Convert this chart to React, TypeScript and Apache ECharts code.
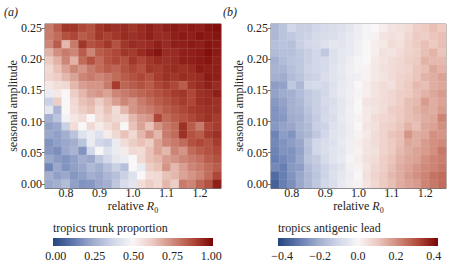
import React, { useEffect, useRef } from 'react';
import * as echarts from 'echarts';

const FONT = 'Liberation Serif';
const TEXT = '#222';
const AXIS = '#555';

// grid cell centres
const rValues = [0.75, 0.775, 0.8, 0.825, 0.85, 0.875, 0.9, 0.925, 0.95, 0.975, 1.0, 1.025, 1.05, 1.075, 1.1, 1.125, 1.15, 1.175, 1.2, 1.225, 1.25];
const ampValues = [0.0, 0.0132, 0.0263, 0.0395, 0.0526, 0.0658, 0.0789, 0.0921, 0.1053, 0.1184, 0.1316, 0.1447, 0.1579, 0.1711, 0.1842, 0.1974, 0.2105, 0.2237, 0.2368, 0.25];

const xTicks = [0.8, 0.9, 1.0, 1.1, 1.2];
const yTicks = [0, 0.05, 0.1, 0.15, 0.2, 0.25];
const trunkTicks = [0, 0.25, 0.5, 0.75, 1.0];
const leadTicks = [-0.4, -0.2, 0, 0.2, 0.4];

// rows listed from top (amplitude 0.25) to bottom (amplitude 0.00)
const trunkProportion = [
  [0.78, 0.84, 0.91, 0.91, 0.88, 0.86, 0.91, 0.93, 0.92, 0.93, 0.91, 0.93, 0.95, 0.93, 0.95, 0.96, 0.95, 0.96, 0.95, 0.97, 0.98],
  [0.78, 0.81, 0.86, 0.88, 0.84, 0.86, 0.91, 0.89, 0.91, 0.93, 0.92, 0.93, 0.95, 0.93, 0.93, 0.95, 0.96, 0.95, 0.97, 0.96, 0.97],
  [0.76, 0.84, 0.66, 0.78, 0.91, 0.86, 0.88, 0.91, 0.86, 0.91, 0.93, 0.92, 0.93, 0.95, 0.93, 0.95, 0.95, 0.96, 0.95, 0.97, 0.96],
  [0.67, 0.74, 0.78, 0.76, 0.84, 0.76, 0.84, 0.86, 0.88, 0.91, 0.90, 0.93, 0.95, 0.97, 0.93, 0.93, 0.95, 0.95, 0.96, 0.98, 0.96],
  [0.62, 0.67, 0.76, 0.67, 0.81, 0.86, 0.81, 0.86, 0.88, 0.86, 0.91, 0.88, 0.91, 0.93, 0.92, 0.93, 0.95, 0.95, 0.96, 0.97, 0.95],
  [0.58, 0.64, 0.70, 0.76, 0.73, 0.78, 0.81, 0.84, 0.82, 0.86, 0.88, 0.86, 0.91, 0.90, 0.92, 0.93, 0.92, 0.93, 0.96, 0.95, 0.95],
  [0.59, 0.61, 0.66, 0.70, 0.76, 0.78, 0.76, 0.78, 0.81, 0.84, 0.86, 0.88, 0.86, 0.90, 0.92, 0.91, 0.93, 0.92, 0.93, 0.96, 0.95],
  [0.54, 0.57, 0.58, 0.66, 0.71, 0.73, 0.73, 0.78, 0.90, 0.82, 0.84, 0.86, 0.84, 0.88, 0.90, 0.88, 0.84, 0.91, 0.93, 0.95, 0.93],
  [0.46, 0.54, 0.50, 0.61, 0.66, 0.71, 0.73, 0.70, 0.76, 0.78, 0.80, 0.82, 0.84, 0.86, 0.88, 0.90, 0.91, 0.88, 0.92, 0.93, 0.95],
  [0.36, 0.61, 0.50, 0.58, 0.64, 0.66, 0.61, 0.66, 0.71, 0.76, 0.73, 0.78, 0.81, 0.84, 0.86, 0.88, 0.90, 0.88, 0.92, 0.93, 0.92],
  [0.44, 0.28, 0.50, 0.57, 0.61, 0.64, 0.58, 0.64, 0.57, 0.66, 0.73, 0.76, 0.78, 0.81, 0.84, 0.86, 0.88, 0.90, 0.91, 0.92, 0.92],
  [0.26, 0.32, 0.48, 0.54, 0.57, 0.50, 0.57, 0.61, 0.58, 0.57, 0.66, 0.71, 0.73, 0.88, 0.81, 0.84, 0.86, 0.88, 0.90, 0.92, 0.90],
  [0.22, 0.24, 0.36, 0.57, 0.50, 0.58, 0.53, 0.57, 0.61, 0.50, 0.64, 0.70, 0.64, 0.73, 0.78, 0.81, 0.92, 0.84, 0.78, 0.88, 0.90],
  [0.24, 0.22, 0.26, 0.32, 0.42, 0.46, 0.42, 0.53, 0.58, 0.64, 0.58, 0.66, 0.73, 0.66, 0.78, 0.81, 0.92, 0.86, 0.84, 0.90, 0.92],
  [0.19, 0.22, 0.24, 0.26, 0.32, 0.46, 0.38, 0.36, 0.46, 0.57, 0.61, 0.64, 0.61, 0.70, 0.76, 0.78, 0.81, 0.86, 0.88, 0.86, 0.90],
  [0.20, 0.18, 0.24, 0.27, 0.19, 0.38, 0.50, 0.42, 0.46, 0.53, 0.58, 0.57, 0.64, 0.70, 0.66, 0.76, 0.73, 0.81, 0.84, 0.86, 0.88],
  [0.24, 0.21, 0.19, 0.22, 0.26, 0.24, 0.33, 0.38, 0.44, 0.46, 0.50, 0.58, 0.64, 0.66, 0.71, 0.73, 0.76, 0.78, 0.80, 0.84, 0.86],
  [0.16, 0.24, 0.19, 0.22, 0.24, 0.29, 0.26, 0.31, 0.36, 0.31, 0.50, 0.46, 0.61, 0.64, 0.73, 0.66, 0.71, 0.76, 0.78, 0.81, 0.84],
  [0.26, 0.22, 0.24, 0.20, 0.22, 0.26, 0.24, 0.28, 0.31, 0.36, 0.42, 0.50, 0.57, 0.58, 0.64, 0.66, 0.70, 0.73, 0.76, 0.81, 0.88],
  [0.24, 0.26, 0.30, 0.22, 0.19, 0.20, 0.24, 0.26, 0.33, 0.40, 0.43, 0.57, 0.61, 0.58, 0.66, 0.61, 0.78, 0.76, 0.82, 0.86, 0.95],
];

const antigenicLead = [
  [-0.18, -0.15, -0.10, -0.12, -0.12, -0.10, -0.09, -0.08, -0.07, -0.05, -0.03, -0.01, 0.00, 0.02, 0.04, 0.05, 0.06, 0.09, 0.10, 0.12, 0.10],
  [-0.18, -0.15, -0.14, -0.12, -0.11, -0.09, -0.08, -0.08, -0.06, -0.04, -0.03, -0.01, 0.01, 0.04, 0.05, 0.04, 0.07, 0.10, 0.09, 0.11, 0.12],
  [-0.16, -0.15, -0.16, -0.12, -0.10, -0.09, -0.07, -0.05, -0.06, -0.04, -0.02, 0.00, 0.02, 0.03, 0.06, 0.05, 0.08, 0.10, 0.12, 0.10, 0.12],
  [-0.17, -0.16, -0.16, -0.14, -0.12, -0.10, -0.14, -0.07, -0.05, -0.04, -0.02, 0.00, 0.02, 0.05, 0.04, 0.06, 0.08, 0.09, 0.12, 0.14, 0.11],
  [-0.20, -0.17, -0.15, -0.14, -0.12, -0.10, -0.09, -0.07, -0.05, -0.03, -0.01, 0.00, 0.03, 0.04, 0.06, 0.07, 0.09, 0.10, 0.14, 0.13, 0.13],
  [-0.19, -0.19, -0.16, -0.14, -0.11, -0.10, -0.09, -0.06, -0.04, -0.02, -0.01, 0.01, 0.03, 0.05, 0.06, 0.07, 0.08, 0.11, 0.12, 0.16, 0.14],
  [-0.20, -0.21, -0.17, -0.15, -0.12, -0.11, -0.08, -0.06, -0.05, -0.03, -0.02, 0.01, 0.03, 0.04, 0.06, 0.08, 0.09, 0.11, 0.14, 0.15, 0.17],
  [-0.24, -0.23, -0.14, -0.18, -0.10, -0.09, -0.10, -0.07, -0.04, -0.03, 0.00, 0.02, 0.04, 0.06, 0.05, 0.08, 0.10, 0.13, 0.12, 0.15, 0.16],
  [-0.23, -0.21, -0.20, -0.17, -0.14, -0.12, -0.10, -0.06, -0.04, -0.02, -0.01, 0.02, 0.04, 0.06, 0.07, 0.09, 0.10, 0.12, 0.14, 0.16, 0.18],
  [-0.25, -0.23, -0.20, -0.18, -0.14, -0.12, -0.09, -0.08, -0.05, -0.03, 0.00, 0.04, 0.05, 0.06, 0.07, 0.09, 0.12, 0.13, 0.18, 0.15, 0.17],
  [-0.26, -0.24, -0.20, -0.19, -0.15, -0.12, -0.10, -0.07, -0.05, -0.02, 0.00, 0.03, 0.04, 0.06, 0.09, 0.10, 0.12, 0.14, 0.16, 0.15, 0.18],
  [-0.26, -0.25, -0.21, -0.20, -0.16, -0.13, -0.09, -0.08, -0.04, -0.02, 0.01, 0.03, 0.06, 0.07, 0.08, 0.10, 0.12, 0.13, 0.15, 0.16, 0.22],
  [-0.25, -0.23, -0.22, -0.19, -0.17, -0.12, -0.11, -0.07, -0.05, -0.03, 0.00, 0.04, 0.05, 0.08, 0.09, 0.11, 0.14, 0.12, 0.16, 0.17, 0.20],
  [-0.29, -0.24, -0.26, -0.20, -0.18, -0.14, -0.10, -0.06, -0.05, -0.03, 0.01, 0.03, 0.06, 0.08, 0.11, 0.12, 0.19, 0.15, 0.16, 0.20, 0.19],
  [-0.28, -0.26, -0.24, -0.22, -0.15, -0.10, -0.08, -0.07, -0.04, -0.02, 0.02, 0.04, 0.06, 0.08, 0.10, 0.12, 0.16, 0.15, 0.18, 0.20, 0.21],
  [-0.29, -0.26, -0.26, -0.23, -0.16, -0.10, -0.08, -0.06, -0.05, -0.02, 0.01, 0.04, 0.05, 0.08, 0.10, 0.13, 0.15, 0.17, 0.18, 0.20, 0.24],
  [-0.30, -0.28, -0.26, -0.22, -0.15, -0.13, -0.09, -0.06, -0.04, -0.01, 0.02, 0.05, 0.06, 0.09, 0.11, 0.14, 0.16, 0.17, 0.20, 0.22, 0.23],
  [-0.28, -0.30, -0.25, -0.24, -0.17, -0.14, -0.11, -0.08, -0.06, -0.02, 0.01, 0.04, 0.07, 0.09, 0.12, 0.15, 0.17, 0.19, 0.21, 0.22, 0.24],
  [-0.34, -0.30, -0.26, -0.22, -0.18, -0.15, -0.11, -0.07, -0.05, -0.03, 0.00, 0.05, 0.08, 0.10, 0.13, 0.15, 0.18, 0.20, 0.22, 0.25, 0.26],
  [-0.36, -0.30, -0.27, -0.22, -0.18, -0.14, -0.10, -0.08, -0.04, -0.02, 0.01, 0.04, 0.07, 0.10, 0.12, 0.15, 0.17, 0.18, 0.22, 0.24, 0.26],
];

const rampColors = ['#27447f', '#5f78ae', '#a0acce', '#d0d6e8', '#f8f6f6', '#ecc8bf', '#d08a7b', '#b04a39', '#790404'];

function toCells(rows: number[][]) {
  const n = rows.length;
  const out: number[][] = [];
  rows.forEach((row, r) => {
    row.forEach((v, i) => out.push([i, n - 1 - r, v]));
  });
  return out;
}

const fmtMinus = (v: number, d: number) =>
  v < -1e-9 ? '\u2212' + Math.abs(v).toFixed(d) : Math.abs(v).toFixed(d);

export default function App() {
  const ref = useRef<HTMLDivElement>(null);

  useEffect(() => {
    if (!ref.current) return;
    const chart = echarts.init(ref.current, undefined, { renderer: 'svg' });

    const gradient = () =>
      new echarts.graphic.LinearGradient(
        0, 0, 1, 0,
        rampColors.map((c, k) => ({ offset: k / (rampColors.length - 1), color: c }))
      );

    const catX = (grid: number) => ({
      type: 'category', gridIndex: grid, data: rValues.map((v) => v.toFixed(3)), show: false,
    });
    const catY = (grid: number) => ({
      type: 'category', gridIndex: grid, data: ampValues.map((v) => v.toFixed(4)), show: false,
    });
    const labelStyle = { fontFamily: FONT, fontSize: 12, color: TEXT };

    const valX = (grid: number) => ({
      type: 'value', gridIndex: grid, position: 'bottom', min: 0.7375, max: 1.2625,
      splitLine: { show: false },
      axisLine: { show: true, onZero: false, lineStyle: { color: AXIS, width: 0.8 } },
      axisTick: { show: true, inside: true, length: 3, customValues: xTicks, lineStyle: { color: AXIS, width: 0.8 } },
      axisLabel: { ...labelStyle, margin: -1, customValues: xTicks, formatter: (v: number) => v.toFixed(1) },
      name: '{n|relative }{i|R}{s|0}',
      nameLocation: 'middle',
      nameGap: 10,
      nameMoveOverlap: false,
      nameTextStyle: {
        ...labelStyle,
        rich: {
          n: { fontFamily: FONT, fontSize: 12, color: TEXT, lineHeight: 16 },
          i: { fontFamily: FONT, fontSize: 12, color: TEXT, fontStyle: 'italic', lineHeight: 16 },
          s: { fontFamily: FONT, fontSize: 8, color: TEXT, verticalAlign: 'bottom', lineHeight: 9 },
        },
      },
    });
    const valY = (grid: number) => ({
      type: 'value', gridIndex: grid, position: 'left', min: -0.0066, max: 0.2566,
      splitLine: { show: false },
      axisLine: { show: true, onZero: false, lineStyle: { color: AXIS, width: 0.8 } },
      axisTick: { show: true, inside: false, length: 3, customValues: yTicks, lineStyle: { color: AXIS, width: 0.8 } },
      axisLabel: { ...labelStyle, margin: 3, customValues: yTicks, formatter: (v: number) => v.toFixed(2) },
      name: 'seasonal amplitude',
      nameLocation: 'middle',
      nameGap: 26,
      nameMoveOverlap: false,
      nameRotate: 90,
      nameTextStyle: { ...labelStyle },
    });
    const barX = (grid: number, min: number, max: number, ticks: number[], digits: number) => ({
      type: 'value', gridIndex: grid, position: 'bottom', min, max,
      splitLine: { show: false },
      axisLine: { show: false, onZero: false },
      axisTick: { show: true, inside: true, length: 2, customValues: ticks, lineStyle: { color: '#ffffff', width: 1 } },
      axisLabel: { ...labelStyle, margin: 4, customValues: ticks, formatter: (v: number) => fmtMinus(v, digits) },
    });
    const barXTop = (grid: number, min: number, max: number, ticks: number[]) => ({
      type: 'value', gridIndex: grid, position: 'top', min, max,
      splitLine: { show: false },
      axisLine: { show: false, onZero: false },
      axisTick: { show: true, inside: true, length: 2, customValues: ticks, lineStyle: { color: '#ffffff', width: 1 } },
      axisLabel: { show: false },
    });
    const barY = (grid: number) => ({
      type: 'value', gridIndex: grid, min: 0, max: 1, show: false,
      axisLine: { onZero: false }, splitLine: { show: false },
    });

    const colorbarSeries = (axisIndex: number) => ({
      type: 'custom',
      xAxisIndex: axisIndex,
      yAxisIndex: axisIndex,
      data: [[0.5, 0.5]],
      silent: true,
      renderItem: (params: any) => {
        const cs = params.coordSys;
        return {
          type: 'rect',
          shape: { x: cs.x, y: cs.y, width: cs.width, height: cs.height },
          style: { fill: gradient() },
        };
      },
    });

    const gridBase = { show: true, borderColor: AXIS, borderWidth: 0.8, backgroundColor: 'transparent', outerBoundsMode: 'none' };

    const option: any = {
      animation: false,
      textStyle: { fontFamily: FONT },
      grid: [
        { ...gridBase, left: 45, top: 24, width: 176, height: 164 },
        { ...gridBase, left: 271, top: 24, width: 175, height: 164 },
        { left: 53, top: 238, width: 160, height: 8, show: false, outerBoundsMode: 'none' },
        { left: 278, top: 238, width: 160, height: 8, show: false, outerBoundsMode: 'none' },
      ],
      xAxis: [
        catX(0), valX(0), catX(1), valX(1),
        barX(2, -0.018, 1.011, trunkTicks, 2),
        barX(3, -0.422, 0.422, leadTicks, 1),
        barXTop(2, -0.018, 1.011, trunkTicks),
        barXTop(3, -0.422, 0.422, leadTicks),
      ],
      yAxis: [catY(0), valY(0), catY(1), valY(1), barY(2), barY(3)],
      visualMap: [
        { type: 'continuous', show: false, seriesIndex: 0, min: 0, max: 1, dimension: 2, inRange: { color: rampColors } },
        { type: 'continuous', show: false, seriesIndex: 1, min: -0.42, max: 0.42, dimension: 2, inRange: { color: rampColors } },
      ],
      series: [
        {
          type: 'heatmap', xAxisIndex: 0, yAxisIndex: 0, data: toCells(trunkProportion),
          itemStyle: { borderColor: 'rgba(255,255,255,0.12)', borderWidth: 0.5 },
          emphasis: { disabled: true },
        },
        {
          type: 'heatmap', xAxisIndex: 2, yAxisIndex: 2, data: toCells(antigenicLead),
          itemStyle: { borderColor: 'rgba(255,255,255,0.12)', borderWidth: 0.5 },
          emphasis: { disabled: true },
        },
        colorbarSeries(4),
        colorbarSeries(5),
      ],
      graphic: [
        { type: 'text', x: 4, y: 12, style: { text: '(a)', fontFamily: FONT, fontSize: 12, fontStyle: 'italic', fill: TEXT, verticalAlign: 'middle' } },
        { type: 'text', x: 223, y: 12, style: { text: '(b)', fontFamily: FONT, fontSize: 12, fontStyle: 'italic', fill: TEXT, verticalAlign: 'middle' } },
        { type: 'text', x: 53, y: 228, style: { text: 'tropics trunk proportion', fontFamily: FONT, fontSize: 12, fill: TEXT, verticalAlign: 'middle' } },
        { type: 'text', x: 278, y: 228, style: { text: 'tropics antigenic lead', fontFamily: FONT, fontSize: 12, fill: TEXT, verticalAlign: 'middle' } },
      ],
    };

    chart.setOption(option);
    return () => chart.dispose();
  }, []);

  return (
    <div
      ref={ref}
      style={{ position: 'absolute', left: 0, top: 0, width: 450, height: 270, background: '#fff' }}
    />
  );
}
